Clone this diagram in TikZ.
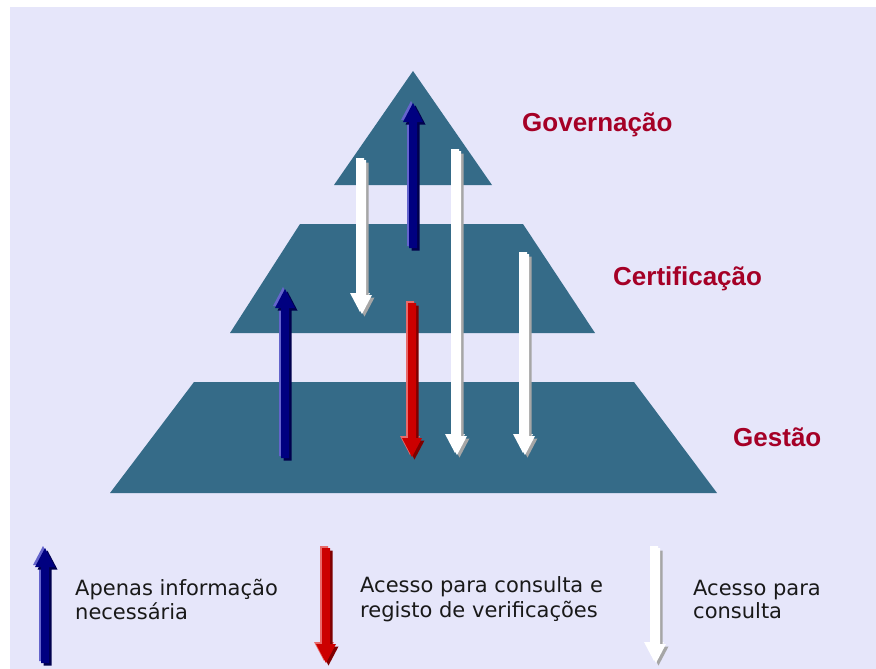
\documentclass[tikz,border=0pt]{standalone}
\usepackage{fontspec}
\setmainfont{Liberation Sans}
\newfontfamily\legfont{DejaVu Sans}
\definecolor{bgc}{HTML}{E6E6FA}
\definecolor{tealc}{HTML}{356B88}
\definecolor{labc}{HTML}{A50026}
\definecolor{bluemain}{HTML}{000080}
\definecolor{bluelight}{HTML}{6464CC}
\definecolor{bluedark}{HTML}{00004D}
\definecolor{redmain}{HTML}{CC0000}
\definecolor{redlight}{HTML}{E86A6A}
\definecolor{reddark}{HTML}{7F0000}
\definecolor{whitemain}{HTML}{FFFFFF}
\definecolor{whitelight}{HTML}{FFFFFF}
\definecolor{whitedark}{HTML}{A6A6A6}
\newcommand\Arr[4]{%
  \pgfmathsetmacro\hb{#3+19*sign(#2-#3)}%
  \foreach \dx/\st in {-2/#4light, 2.5/#4dark, 0/#4main}{%
    \fill[\st, shift={(\dx,\dx)}] (#1-4,#2) -- (#1-4,\hb) -- (#1-10,\hb) -- (#1,#3)
      -- (#1+10,\hb) -- (#1+4,\hb) -- (#1+4,#2) -- cycle;
  }%
}
\tikzset{
  lab/.style={font=\bfseries\fontsize{26}{30}\selectfont, text=labc, inner sep=0pt, anchor=base west},
  leg/.style={font=\legfont\fontsize{21}{25}\selectfont, text=black!90, inner sep=0pt, anchor=base west}
}
\begin{document}
\begin{tikzpicture}[x=1pt,y=-1pt]
\useasboundingbox (0,0) rectangle (876,669);
\fill[bgc] (10,7) rectangle (876,669);
% pyramid
\fill[tealc] (413,71) -- (492,185) -- (334,185) -- cycle;
\fill[tealc] (300,224) -- (523,224) -- (595,333) -- (230,333) -- cycle;
\fill[tealc] (194,382) -- (634,382) -- (717,493) -- (110,493) -- cycle;
% arrows in pyramid
\Arr{362}{160}{314}{white}
\Arr{457}{151}{455}{white}
\Arr{525}{254}{455}{white}
\Arr{413}{248}{103}{blue}
\Arr{285}{458}{289}{blue}
\Arr{412}{303}{457}{red}
% labels
\node[lab] (gov) at (522,131) {Governação};
\node[lab] (cert) at (613,285) {Certificação};
\node[lab] (ges) at (733,446) {Gestão};
% legend
\Arr{45}{663}{548}{blue}
\Arr{326}{548}{663}{red}
\Arr{656}{548}{663}{white}
\node[leg] (l1a) at (75,595) {Apenas informação};
\node[leg] (l1b) at (75,619) {necessária};
\node[leg] (l2a) at (360,592) {Acesso para consulta e};
\node[leg] (l2b) at (360,617) {registo de verificações};
\node[leg] (l3a) at (693,595) {Acesso para};
\node[leg] (l3b) at (693,618) {consulta};
\end{tikzpicture}
\end{document}
